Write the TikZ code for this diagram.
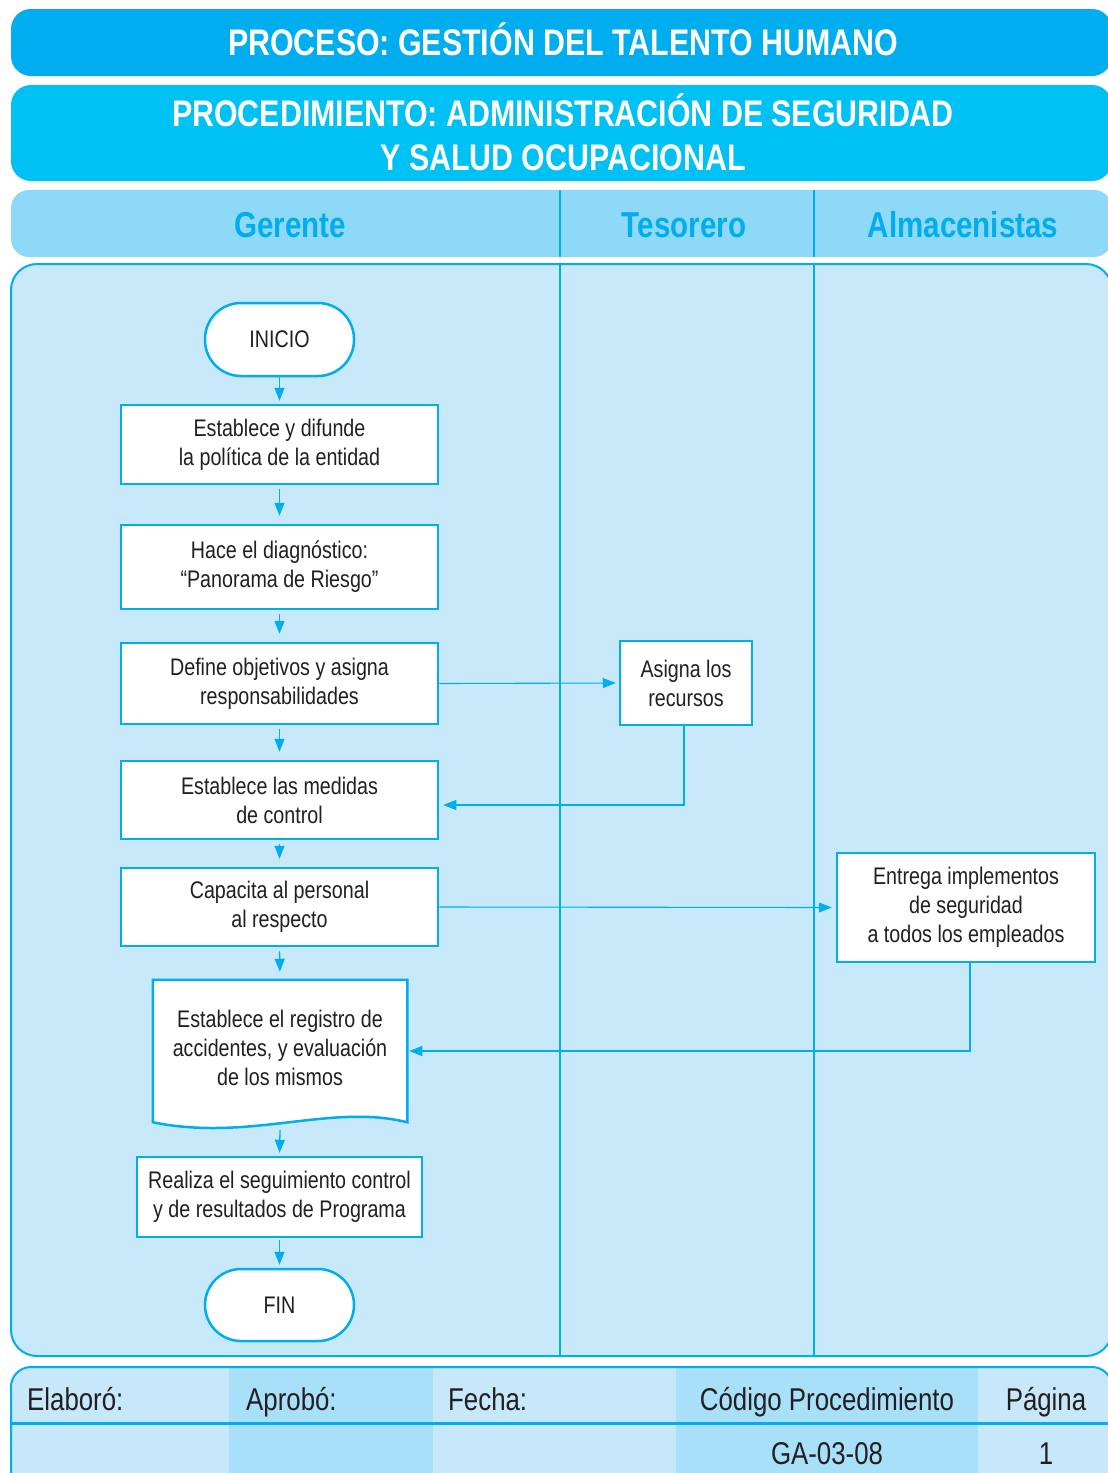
\documentclass[tikz,border=0pt]{standalone}
\usepackage{fontspec}
\setmainfont[FakeStretch=0.82]{Liberation Sans}
\usetikzlibrary{arrows.meta,calc}

\definecolor{cyanline}{HTML}{00AEEF}
\definecolor{bandA}{HTML}{00AEEF}
\definecolor{bandB}{HTML}{00C1F3}
\definecolor{laneHead}{HTML}{8ED8F8}
\definecolor{bodyFill}{HTML}{C7E9FA}
\definecolor{cellLight}{HTML}{C6E8FA}
\definecolor{cellDark}{HTML}{A9E0F9}
\definecolor{ink}{HTML}{231F20}

\begin{document}
\begin{tikzpicture}[x=1pt,y=-1pt,
  task/.style={draw=cyanline, line width=2.5pt, fill=white, minimum width=317pt,
    inner sep=0pt, align=center, text=ink, font=\fontsize{24}{29}\selectfont},
  term/.style={task, minimum width=149pt, rounded corners=36pt},
  arr/.style={draw=cyanline, line width=1.3pt, -{Triangle[length=13pt,width=10pt]}},
  lane/.style={draw=cyanline, line width=2pt},
  lanetitle/.style={anchor=base, text=cyanline, font=\fontsize{36}{40}\selectfont\bfseries},
  bandtitle/.style={anchor=base, text=white, font=\fontsize{37}{44}\selectfont\bfseries},
  foottext/.style={text=ink, font=\fontsize{31.5}{36}\selectfont, inner sep=0pt}
]
\useasboundingbox (0,0) rectangle (1108,1473);

% header bands
\fill[bandA, rounded corners=20pt] (11,9) rectangle (1112,76);
\fill[bandB, rounded corners=20pt] (11,85) rectangle (1112,181);
\fill[laneHead, rounded corners=18pt] (11,190) rectangle (1112,257);
\draw[lane] (560,190) -- (560,257);
\draw[lane] (814,190) -- (814,257);

\node[bandtitle] (t1) at (563,55) {PROCESO: GESTIÓN DEL TALENTO HUMANO};
\node[bandtitle] (t2a) at (563,126) {PROCEDIMIENTO: ADMINISTRACIÓN DE SEGURIDAD};
\node[bandtitle] (t2b) at (563,170) {Y SALUD OCUPACIONAL};

\node[lanetitle] (hGer) at (290,237) {Gerente};
\node[lanetitle] (hTes) at (684,237) {Tesorero};
\node[lanetitle] (hAlm) at (963,237) {Almacenistas};

% swimlane body
\draw[fill=bodyFill, draw=cyanline, line width=2pt, rounded corners=26pt] (11,264) rectangle (1112,1356);
\draw[lane] (560,265) -- (560,1355);
\draw[lane] (814,265) -- (814,1355);

% process nodes
\node[term, minimum height=73pt] (inicio) at (279.5,339.5) {INICIO};
\node[task, minimum height=79pt] (b1) at (279.5,444.5) {Establece y difunde\\la política de la entidad};
\node[task, minimum height=84pt] (b2) at (279.5,567) {Hace el diagnóstico:\\“Panorama de Riesgo”};
\node[task, minimum height=81pt] (b3) at (279.5,683.5) {Define objetivos y asigna\\responsabilidades};
\node[task, minimum height=78pt] (b4) at (279.5,800) {Establece las medidas\\de control};
\node[task, minimum height=78pt] (b5) at (279.5,907) {Capacita al personal\\al respecto};
\node[task, draw=none, fill=none, minimum width=252pt, minimum height=140pt] (doc) at (280,1051) {};
\draw[draw=cyanline, line width=2.5pt, fill=white]
  (doc.south west) -- (doc.north west) -- (doc.north east) -- (doc.south east)
  .. controls (330,1103) and (250,1142) .. (doc.south west) -- cycle;
\node[text=ink, align=center, font=\fontsize{24}{29}\selectfont] (doctext) at (280,1048)
  {Establece el registro de\\accidentes, y evaluación\\de los mismos};
\node[task, minimum width=285pt, minimum height=80pt] (b7) at (279.5,1197) {Realiza el seguimiento control\\y de resultados de Programa};
\node[term, minimum height=72pt] (fin) at (279.5,1305) {FIN};

\node[task, minimum width=132pt, minimum height=84pt] (asigna) at (686,683) {Asigna los\\recursos};
\node[task, minimum width=258pt, minimum height=109pt] (entrega) at (966,907.5) {Entrega implementos\\de seguridad\\a todos los empleados};

% connectors
\draw[arr, shorten >=3pt] (inicio.south) -- (b1.north);
\draw[arr, shorten <=4pt, shorten >=8pt] (b1.south) -- (b2.north);
\draw[arr, shorten <=4pt, shorten >=8pt] (b2.south) -- (b3.north);
\draw[arr, shorten <=4pt, shorten >=8pt] (b3.south) -- (b4.north);
\draw[arr, shorten <=4pt, shorten >=8pt] (b4.south) -- (b5.north);
\draw[arr, shorten <=4pt, shorten >=8pt] (b5.south) -- (doc.north);
\coordinate (docbot) at (280,1130);
\draw[arr, shorten >=3pt] (docbot) -- (b7.north);
\draw[arr, shorten <=2pt, shorten >=3pt] (b7.south) -- (fin.north);

\draw[arr, line width=1.1pt, shorten >=3pt] (b3.east) -- (asigna.west);
\draw[arr, line width=1.1pt, shorten >=4pt] ([xshift=-2pt]asigna.south) |- ([yshift=-5pt]b4.east);
\draw[arr, line width=1.1pt, shorten >=4pt] (b5.east) -- (entrega.west);
\draw[arr, line width=1.1pt, shorten >=2pt] ([xshift=4pt]entrega.south) |- (doc.east);

% footer table
\begin{scope}
  \path[clip, rounded corners=20pt] (11,1367) rectangle (1112,1500);
  \fill[cellLight] (11,1367) rectangle (229,1500);
  \fill[cellDark] (229,1367) rectangle (433,1500);
  \fill[cellLight] (433,1367) rectangle (676,1500);
  \fill[cellDark] (676,1367) rectangle (978,1500);
  \fill[cellLight] (978,1367) rectangle (1112,1500);
\end{scope}
\draw[draw=cyanline, line width=2pt, rounded corners=20pt] (11,1367) rectangle (1112,1500);
\draw[draw=cyanline, line width=2.5pt] (11,1423.5) -- (1112,1423.5);

\node[foottext, anchor=base west] (fElab) at (27,1410) {Elaboró:};
\node[foottext, anchor=base west] (fApr) at (246,1410) {Aprobó:};
\node[foottext, anchor=base west] (fFec) at (448,1410) {Fecha:};
\node[foottext, anchor=base] (fCod) at (827,1410) {Código Procedimiento};
\node[foottext, anchor=base] (fPag) at (1046,1410) {Página};
\node[foottext, anchor=base] (fCodV) at (827,1464) {GA-03-08};
\node[foottext, anchor=base] (fPagV) at (1046,1464) {1};
\end{tikzpicture}
\end{document}
